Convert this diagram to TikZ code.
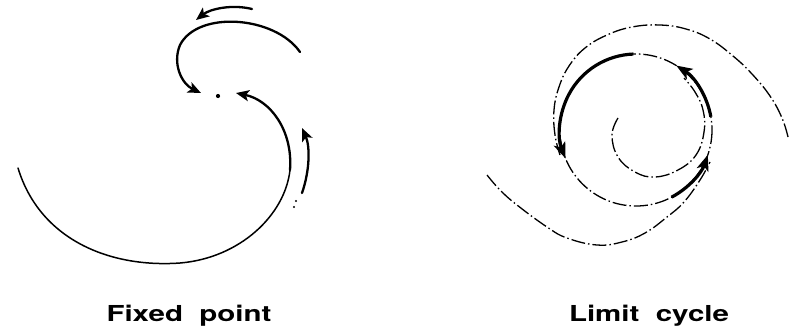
\documentclass[tikz,border=0pt]{standalone}
\usepackage{fontspec}
\setmainfont{TeX Gyre Heros}
\usetikzlibrary{arrows.meta,calc}
\tikzset{
  thinline/.style={line width=1.5pt, line cap=round},
  thickarrow/.style={line width=2.3pt, line cap=round, -{Stealth[length=13pt,width=11pt,inset=3pt]}},
  ddline/.style={line width=1.3pt, dash pattern=on 14pt off 3pt on 1.5pt off 3pt},
  cyclearrow/.style={line width=3.2pt, -{Stealth[length=16pt,width=12pt,inset=4pt]}},
  lbl/.style={font=\fontsize{22}{22}\selectfont\bfseries, xscale=1.34, inner sep=0pt}
}
\begin{document}
\begin{tikzpicture}[x=1pt,y=-1pt]
\useasboundingbox (0,0) rectangle (791,330);
% ---------- Fixed point ----------
\coordinate (fp) at (218,96);
\fill (fp) circle (2.1);
\coordinate (a1) at (252,9);   \coordinate (a2) at (196,20);
\draw[thickarrow] (a1) .. controls (232,4) and (210,9) .. (a2);
\coordinate (b1) at (300,52);  \coordinate (b2) at (201,93);
\draw[thickarrow] (b1) .. controls (275,16) and (198,10) .. (180,45)
   .. controls (172,64) and (182,84) .. (b2);
\coordinate (c0) at (18,168);  \coordinate (c1) at (180,263);
\coordinate (c2) at (290,170); \coordinate (c3) at (236,93);
\draw[thinline] (c0) .. controls (40,240) and (110,268) .. (c1)
   .. controls (240,258) and (285,215) .. (c2);
\draw[thickarrow] (c2) .. controls (293,130) and (270,100) .. (c3);
\coordinate (d0) at (302,193); \coordinate (d1) at (302,128);
\draw[thickarrow] (d0) .. controls (310,170) and (310,146) .. (d1);
\fill (296,201) circle (1.1); \fill (294,207) circle (1.1);
% ---------- Limit cycle ----------
\coordinate (lc) at (636,130);
\draw[ddline] (lc) circle (76);
% arrows on the cycle (user angle = - visual angle)
\draw[cyclearrow] (lc) ++(-10:76) arc[start angle=-10, end angle=-58, radius=76];
\draw[cyclearrow] (lc) ++(-92:76) arc[start angle=-92, end angle=-202, radius=76];
\draw[cyclearrow] (lc) ++(62:76) arc[start angle=62, end angle=19, radius=76];
% inner spiral
\draw[ddline] plot[smooth, tension=0.7] coordinates {(618,118) (612,135) (618,157) (635,172) (655,177) (678,170) (696,155) (704,132) (703,110) (695,92) (684,78)};
% outer spirals
\draw[ddline] plot[smooth, tension=0.7] coordinates {(788,137) (782,118) (770,96) (752,74) (733,56) (710,39) (686,29) (660,25) (632,27) (607,35) (585,48) (569,66) (559,87) (554,110) (555,135) (560,155)};
\draw[ddline] plot[smooth, tension=0.7] coordinates {(487,175) (500,190) (517,205) (547,227) (567,238) (597,245) (622,242) (645,233) (667,217) (684,202) (700,180) (710,162)};
% ---------- labels ----------
\node[lbl] (t1) at (189,316) {Fixed\ \ point};
\node[lbl] (t2) at (649,316) {Limit\ \ cycle};
\end{tikzpicture}
\end{document}
